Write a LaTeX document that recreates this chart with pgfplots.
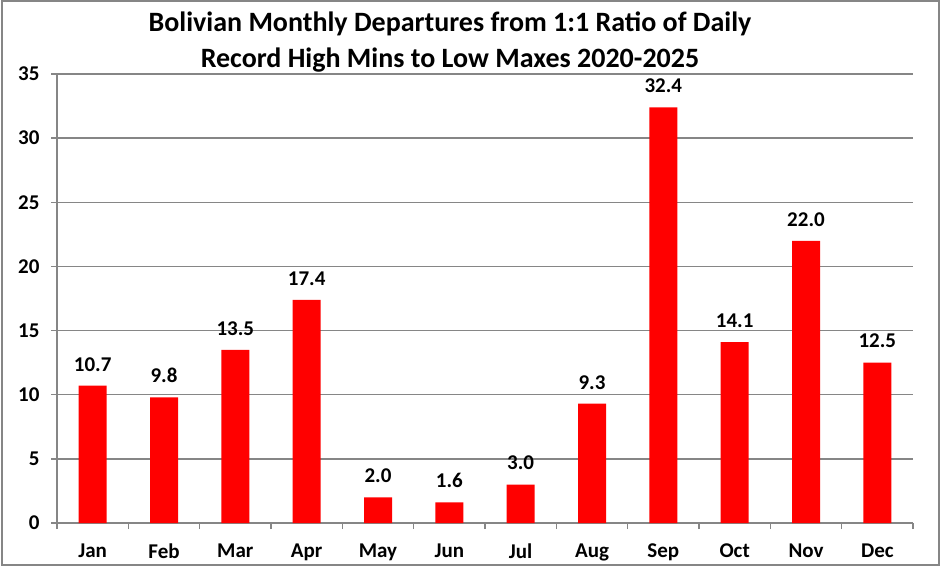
\documentclass[border=0pt]{standalone}
\usepackage{pgfplots}
\pgfplotsset{compat=1.18}
\usepackage{fontspec}
\setmainfont{Carlito}
\definecolor{gridgray}{RGB}{134,134,134}
\begin{document}
\begin{tikzpicture}[x=1pt,y=1pt]
\fill[white] (0,0) rectangle (940,566);
\draw[gridgray, line width=2pt] (1.5,1.5) rectangle (938.5,564.5);
\node[font=\fontsize{28}{36}\selectfont\bfseries, align=center] at (450,523.5) {Bolivian Monthly Departures from 1:1 Ratio of Daily\\Record High Mins to Low Maxes 2020-2025};
\begin{axis}[
  at={(57pt,43pt)}, anchor=south west,
  scale only axis, width=856pt, height=449pt,
  xmin=-0.5, xmax=11.5, ymin=0, ymax=35,
  ytick={0,5,...,35},
  xtick={0,...,11},
  xticklabels={Jan,Feb,Mar,Apr,May,Jun,Jul,Aug,Sep,Oct,Nov,Dec},
  minor xtick={-0.5,0.5,...,11.5},
  major x tick style={draw=none},
  minor tick length=6pt,
  major tick length=6pt,
  tick align=outside,
  tick style={gridgray, line width=1.5pt},
  axis line style={gridgray, line width=1.5pt},
  axis x line*=bottom, axis y line*=left,
  ymajorgrids, grid style={gridgray, line width=1.5pt},
  ticklabel style={font=\fontsize{21}{25}\selectfont\bfseries},
  /pgf/number format/assume math mode=true,
  yticklabel style={xshift=-8pt},
  xticklabel style={yshift=-11pt},
  ybar, bar width=28pt,
  nodes near coords,
  nodes near coords style={font=\fontsize{21}{25}\selectfont\bfseries, /pgf/number format/fixed, /pgf/number format/fixed zerofill, /pgf/number format/precision=1, yshift=11pt},
  every node near coord/.append style={anchor=south},
]
\addplot[fill=red, draw=none] coordinates {
(0,10.7) (1,9.8) (2,13.5) (3,17.4) (4,2.0) (5,1.6) (6,3.0) (7,9.3) (8,32.4) (9,14.1) (10,22.0) (11,12.5)};
\end{axis}
\end{tikzpicture}
\end{document}
